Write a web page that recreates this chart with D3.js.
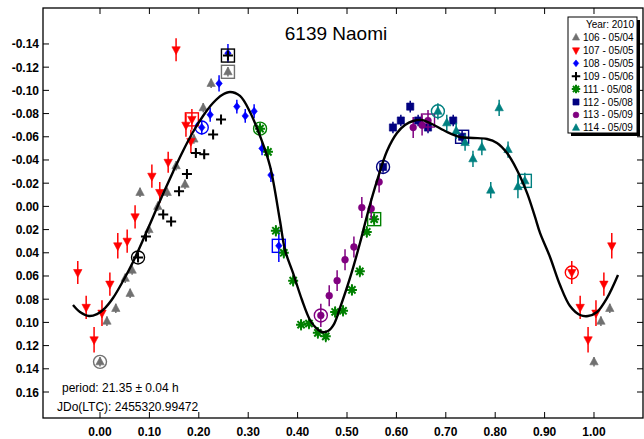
<!DOCTYPE html>
<html><head><meta charset="utf-8">
<script src="https://cdn.jsdelivr.net/npm/d3@7"></script>
<style>
html,body{margin:0;padding:0;background:#fff;}
text{font-family:"Liberation Sans",Arial,sans-serif;}
</style></head>
<body><svg id="c" width="644" height="439"></svg>
<script>
// ---------- DATA ----------
const title = "6139 Naomi";
const legendYear = "Year: 2010";
const seriesIds = ["106","107","108","109","111","112","113","114"];
const seriesDates = ["05/04","05/05","05/05","05/06","05/08","05/08","05/09","05/09"];
const xTicks = [0,0.1,0.2,0.3,0.4,0.5,0.6,0.7,0.8,0.9,1.0];
const yTicks = [-0.14,-0.12,-0.10,-0.08,-0.06,-0.04,-0.02,0,0.02,0.04,0.06,0.08,0.10,0.12,0.14,0.16];
const periodText = "period: 21.35 \u00b1 0.04 h";
const jdText = "JDo(LTC): 2455320.99472";

// series 106
const s106Phase = [0.000,0.014,0.032,0.061,0.051,0.065,0.099,0.117,0.081,0.136,0.172,0.154,0.190,0.209,0.225,0.259];
const s106Mag   = [0.134,0.099,0.088,0.075,0.062,0.055,0.020,0.000,-0.012,-0.012,-0.019,-0.035,-0.058,-0.085,-0.106,-0.116];
const s106Err   = [0.004,0.004,0.004,0.004,0.004,0.004,0.004,0.004,0.004,0.004,0.004,0.004,0.004,0.004,0.004,0.004];
// series 107
const s107Phase = [0.955,0.154,0.186,0.174,0.184,0.138,0.105,0.121,0.071,0.055,0.036,0.020,0.004,0.972,0.988];
const s107Mag   = [0.057,-0.135,-0.075,-0.070,-0.056,-0.038,-0.026,-0.012,0.009,0.030,0.034,0.067,0.092,0.087,0.115];
const s107Err   = [0.010,0.010,0.009,0.010,0.010,0.009,0.010,0.009,0.010,0.010,0.011,0.010,0.011,0.010,0.011];
// series 108
const s108Phase = [0.206,0.259,0.241,0.223,0.277,0.294,0.312,0.328,0.346,0.362];
const s108Mag   = [-0.068,-0.132,-0.106,-0.079,-0.086,-0.078,-0.082,-0.050,-0.027,0.034];
const s108Err   = [0.006,0.008,0.007,0.006,0.006,0.006,0.006,0.006,0.006,0.014];
// series 109
const s109Phase = [0.077,0.259,0.245,0.229,0.194,0.211,0.176,0.160,0.128,0.144,0.093];
const s109Mag   = [0.044,-0.130,-0.075,-0.062,-0.046,-0.045,-0.028,-0.013,0.007,0.013,0.026];
const s109Err   = [0.004,0.004,0.003,0.003,0.003,0.003,0.003,0.003,0.003,0.003,0.003];
// series 111
const s111Phase = [0.324,0.340,0.356,0.372,0.391,0.407,0.423,0.441,0.457,0.476,0.492,0.510,0.526,0.540,0.555];
const s111Mag   = [-0.067,-0.047,0.021,0.040,0.064,0.102,0.101,0.109,0.112,0.091,0.090,0.072,0.056,0.022,0.011];
const s111Err   = [0.005,0.005,0.005,0.005,0.005,0.005,0.005,0.005,0.005,0.005,0.005,0.005,0.005,0.005,0.005];
// series 112
const s112Phase = [0.573,0.593,0.609,0.628,0.644,0.664,0.715,0.733];
const s112Mag   = [-0.034,-0.068,-0.074,-0.086,-0.074,-0.068,-0.074,-0.060];
const s112Err   = [0.005,0.005,0.005,0.005,0.005,0.005,0.005,0.005];
// series 113
const s113Phase = [0.447,0.464,0.480,0.496,0.514,0.530,0.549,0.565,0.634,0.652,0.664];
const s113Mag   = [0.094,0.077,0.064,0.046,0.035,0.001,0.002,-0.021,-0.068,-0.070,-0.074];
const s113Err   = [0.010,0.009,0.009,0.009,0.009,0.009,0.009,0.009,0.009,0.009,0.009];
// series 114
const s114Phase = [0.684,0.702,0.721,0.739,0.755,0.773,0.791,0.808,0.826,0.846,0.860];
const s114Mag   = [-0.082,-0.072,-0.065,-0.055,-0.041,-0.051,-0.014,-0.085,-0.049,-0.017,-0.022];
const s114Err   = [0.007,0.007,0.007,0.007,0.007,0.007,0.007,0.007,0.007,0.010,0.007];

// first (ringed) and last (boxed) point index for each series
const firstIdx = [0,0,0,0,0,0,0,0];
const lastIdx  = [15,2,9,1,14,7,10,10];

// fitted curve
const curvePhase = [-0.0547,-0.0405,-0.0223,-0.0061,0.0101,0.0263,0.0466,0.0668,0.0870,0.1073,0.1275,0.1478,0.1680,0.1883,0.2085,0.2287,0.2470,0.2632,0.2834,0.3036,0.3239,0.3441,0.3644,0.3745,0.3907,0.4089,0.4251,0.4372,0.4494,0.4615,0.4737,0.4858,0.5061,0.5263,0.5425,0.5607,0.5810,0.6012,0.6174,0.6336,0.6518,0.6721,0.7024,0.7287,0.7551,0.7834,0.8036,0.8239,0.8441,0.8644,0.8806,0.8907,0.9109,0.9312,0.9514,0.9717,0.9879,1.0061,1.0263,1.0486];
const curveMag   = [0.0850,0.0910,0.0945,0.0928,0.0876,0.0790,0.0643,0.0479,0.0290,0.0091,-0.0107,-0.0297,-0.0478,-0.0641,-0.0779,-0.0891,-0.0960,-0.0986,-0.0952,-0.0814,-0.0607,-0.0348,0.0126,0.0376,0.0574,0.0807,0.0979,0.1048,0.1083,0.1074,0.1014,0.0876,0.0617,0.0316,0.0048,-0.0219,-0.0478,-0.0633,-0.0702,-0.0736,-0.0745,-0.0710,-0.0641,-0.0598,-0.0590,-0.0581,-0.0547,-0.0460,-0.0314,-0.0116,0.0091,0.0229,0.0436,0.0678,0.0859,0.0936,0.0945,0.0910,0.0790,0.0591];

// ---------- STYLE / LAYOUT ----------
const seriesData = [
  [s106Phase,s106Mag,s106Err],[s107Phase,s107Mag,s107Err],[s108Phase,s108Mag,s108Err],[s109Phase,s109Mag,s109Err],
  [s111Phase,s111Mag,s111Err],[s112Phase,s112Mag,s112Err],[s113Phase,s113Mag,s113Err],[s114Phase,s114Mag,s114Err]];
const colors = ["#707070","#ff0000","#0000ff","#000000","#008000","#000080","#800080","#008080"];
const shapes = ["tri","tridown","diamond","plus","asterisk","square","circle","tri"];

const L=43,R=643,T=8,B=418;
const x = d3.scaleLinear().domain([-0.1154,1.0992]).range([L,R]);
const y = d3.scaleLinear().domain([-0.171,0.1824]).range([T,B]);
const svg = d3.select("#c");

svg.append("defs").append("clipPath").attr("id","clip")
  .append("rect").attr("x",L).attr("y",T).attr("width",R-L).attr("height",B-T);

function shapePath(s,k){
  k = k||1;
  const f = v => (v*k).toFixed(2);
  switch(s){
    case "tri": return `M0,${f(-4.8)}L${f(4.2)},${f(3)}L${f(-4.2)},${f(3)}Z`;
    case "tridown": return `M0,${f(4.8)}L${f(4.2)},${f(-3)}L${f(-4.2)},${f(-3)}Z`;
    case "diamond": return `M0,${f(-4)}L${f(3.2)},0L0,${f(4)}L${f(-3.2)},0Z`;
    case "square": return `M${f(-3.6)},${f(-3.6)}H${f(3.6)}V${f(3.6)}H${f(-3.6)}Z`;
    case "plus": return `M${f(-5)},0H${f(5)}M0,${f(-5)}V${f(5)}`;
    case "asterisk": return `M${f(-5)},0H${f(5)}M0,${f(-5)}V${f(5)}M${f(-3.6)},${f(-3.6)}L${f(3.6)},${f(3.6)}M${f(-3.6)},${f(3.6)}L${f(3.6)},${f(-3.6)}`;
    case "circle": return `M${f(-3.4)},0A${f(3.4)},${f(3.4)} 0 1 0 ${f(3.4)},0A${f(3.4)},${f(3.4)} 0 1 0 ${f(-3.4)},0Z`;
  }
}
function drawMarker(g,s,c,px,py,k){
  const stroked = (s==="plus"||s==="asterisk");
  g.append("path").attr("d",shapePath(s,k)).attr("transform",`translate(${px},${py})`)
    .attr("fill",stroked?"none":c).attr("stroke",c).attr("stroke-width",stroked?2:0.6);
}

// frame
svg.append("rect").attr("x",L).attr("y",T).attr("width",R-L).attr("height",B-T)
  .attr("fill","none").attr("stroke","#000").attr("stroke-width",1.3);

// ticks (inside)
const tk = svg.append("g").attr("stroke","#000").attr("stroke-width",1);
xTicks.forEach(v=>{
  tk.append("line").attr("x1",x(v)).attr("x2",x(v)).attr("y1",B).attr("y2",B-6);
  tk.append("line").attr("x1",x(v)).attr("x2",x(v)).attr("y1",T).attr("y2",T+6);
});
yTicks.forEach(v=>{
  tk.append("line").attr("x1",L).attr("x2",L+6).attr("y1",y(v)).attr("y2",y(v));
  tk.append("line").attr("x1",R).attr("x2",R-6).attr("y1",y(v)).attr("y2",y(v));
});
xTicks.forEach(v=>{
  svg.append("text").attr("x",x(v)).attr("y",435.5).attr("text-anchor","middle")
    .attr("font-size",12).attr("font-weight","bold").text(v.toFixed(2));
});
yTicks.forEach(v=>{
  svg.append("text").attr("x",39).attr("y",y(v)+4.5).attr("text-anchor","end")
    .attr("font-size",12).attr("font-weight","bold").text(v.toFixed(2));
});

const plot = svg.append("g").attr("clip-path","url(#clip)");

// data points
seriesData.forEach((sd,si)=>{
  const [ph,mg,er]=sd; const c=colors[si];
  const g = plot.append("g");
  ph.forEach((p,i)=>{
    const copies=[p]; if(p<0.05) copies.push(p+1); if(p>0.95) copies.push(p-1);
    copies.forEach(q=>{
      g.append("line").attr("x1",x(q)).attr("x2",x(q)).attr("y1",y(mg[i]-er[i])).attr("y2",y(mg[i]+er[i]))
        .attr("stroke",c).attr("stroke-width",1.5);
      drawMarker(g,shapes[si],c,x(q),y(mg[i]));
    });
    if(i===firstIdx[si]){
      g.append("circle").attr("cx",x(p)).attr("cy",y(mg[i])).attr("r",6.5)
        .attr("fill","none").attr("stroke",c).attr("stroke-width",1.4);
    }
    if(i===lastIdx[si]){
      g.append("rect").attr("x",x(p)-6.5).attr("y",y(mg[i])-6.5).attr("width",13).attr("height",13)
        .attr("fill","none").attr("stroke",c).attr("stroke-width",1.4);
    }
  });
});

// fitted curve
const curvePts = curvePhase.map((p,i)=>[p,curveMag[i]]);
plot.append("path").datum(curvePts)
  .attr("d",d3.line().x(d=>x(d[0])).y(d=>y(d[1])).curve(d3.curveCatmullRom.alpha(0.5)))
  .attr("fill","none").attr("stroke","#000").attr("stroke-width",2.4);

// title
svg.append("text").attr("x",336).attr("y",40).attr("text-anchor","middle").attr("font-size",19).text(title);

// footnotes
svg.append("text").attr("x",62).attr("y",392).attr("font-size",12).text(periodText);
svg.append("text").attr("x",57).attr("y",411).attr("font-size",12).text(jdText);

// legend
const lg = svg.append("g");
const lx=568, ly=17, lw=69, lh=116;
lg.append("rect").attr("x",lx+3).attr("y",ly+3).attr("width",lw).attr("height",lh).attr("fill","#000");
lg.append("rect").attr("x",lx).attr("y",ly).attr("width",lw).attr("height",lh).attr("fill","#fff").attr("stroke","#000").attr("stroke-width",1);
lg.append("text").attr("x",lx+lw-3).attr("y",ly+11).attr("text-anchor","end").attr("font-size",10).text(legendYear);
seriesIds.forEach((id,i)=>{
  const yy = ly+24+i*12.9;
  drawMarker(lg,shapes[i],colors[i],lx+8,yy-3.5,0.85);
  lg.append("text").attr("x",lx+15).attr("y",yy).attr("font-size",10).text(id+" - "+seriesDates[i]);
});
</script></body></html>
